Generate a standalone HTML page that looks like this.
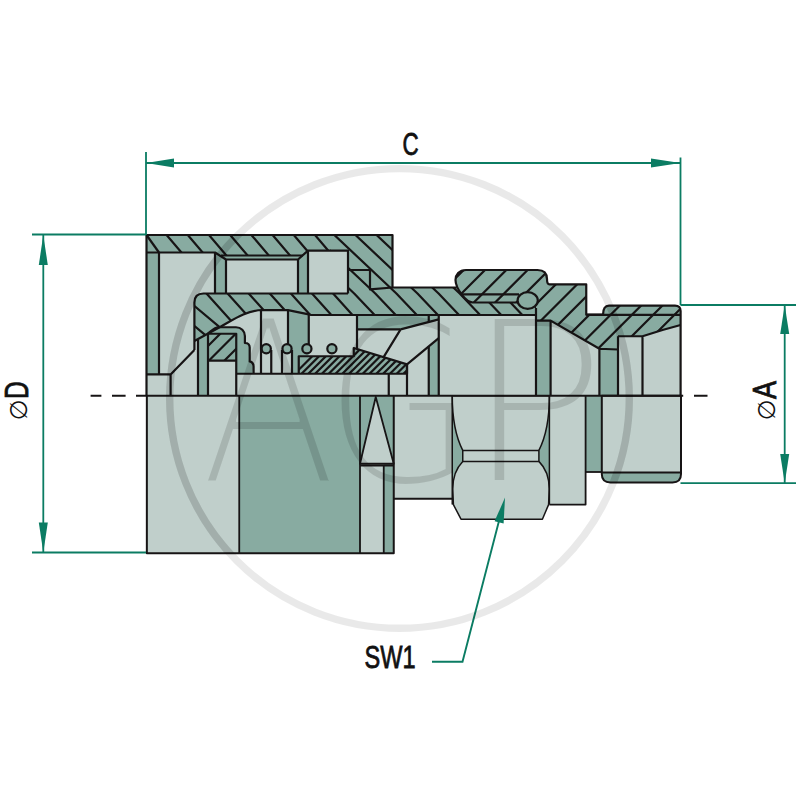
<!DOCTYPE html><html><head><meta charset="utf-8"><title>Drawing</title><style>html,body{margin:0;padding:0;background:#fff}svg{display:block}</style></head><body><svg width="800" height="800" viewBox="0 0 800 800"><defs><clipPath id="c1"><path d="M146.5,235 H348 V250.6 H308 L303,255.5 H220.5 L215,252.5 H146.5 Z"/></clipPath><clipPath id="c2"><path d="M194.4,341 V302.5 Q194.4,293.5 203.5,293.5 H348 V250.6 H330 V235 H392.5 V287.5 H456.5 C459,291 465,302.5 473,302.5 H536 V315 H308.75 L288,310.2 L262,310 C246,310.5 232,320.5 221,326.5 Z"/></clipPath><clipPath id="c3"><path d="M461.5,294.4 C458.5,290 455.5,286 455.5,280 C455.5,275 459,270 466,270 H537.5 Q547,270 547,279 Q547,284.4 549.5,284.4 H586.25 V314.7 H603 Q603,305.6 609,305.6 H675 Q680.6,305.6 680.6,311 V325 L662.5,330 L642.5,336.25 H618 V349.5 L599.4,348.75 L550.6,320.6 H536 V302.5 H473 C468,302.5 465,299 461.5,294.4 Z"/></clipPath><clipPath id="c4"><path d="M208,333.75 H236.25 V360.6 H208 Z"/></clipPath><clipPath id="c5"><path d="M298.75,356.25 H353.75 V348 L407,364.4 V373.75 H298.75 Z"/></clipPath><filter id="thin" x="-5%" y="-5%" width="110%" height="110%"><feMorphology operator="erode" radius="1"/></filter><clipPath id="sil"><path d="M146.5,235 H392.5 V287.5 H456.5 C455.5,275 459,270 466,270 H537.5 Q547,270 547,279 Q547,284.4 549.5,284.4 H586.25 V314.7 H603 Q603,305.6 609,305.6 H675 Q680.6,305.6 680.6,311 V474 Q681,482.4 672.5,482.4 H610.5 Q601.8,482.4 601.8,474 V472 H585.6 V504.6 H549.4 L542.4,519.2 H461 L452.25,504.6 V498.75 H393.75 V553 H146.75 Z"/></clipPath></defs><rect width="800" height="800" fill="#fff"/><path d="M146.5,235 H392.5 V287.5 H456.5 C459,291 465,302.5 473,302.5 H536 V315 H308.75 L288,310.2 L262,310 C246,310.5 232,320.5 221,326.5 L194.4,341 V302.5 Q194.4,293.5 203.5,293.5 H348 V250.6 H308 L303,255.5 H220.5 L215,252.5 H146.5 Z" fill="#88aba1"/>
<rect x="215" y="252.5" width="11" height="41.0" fill="#88aba1"/>
<rect x="298" y="255" width="10" height="38.5" fill="#88aba1"/>
<rect x="220.5" y="255.5" width="82.5" height="4.0" fill="#88aba1"/>
<path d="M215,252.5 L226,259.5 V255.5 H220.5 Z" fill="#88aba1"/>
<rect x="146.5" y="252.5" width="12.5" height="121.9" fill="#88aba1"/>
<path d="M159,252.5 H215 V293.5 H203.5 Q194.4,293.5 194.4,302.5 V350 L170.6,374.4 H159 Z" fill="#c0cfcb"/>
<rect x="226" y="259.5" width="72" height="34.0" fill="#c0cfcb"/>
<path d="M298,259.5 L308,250.6 V293.5 H298 Z" fill="#88aba1"/>
<rect x="308" y="250.6" width="40" height="42.9" fill="#c0cfcb"/>
<rect x="146.5" y="374.4" width="24.1" height="21.4" fill="#c0cfcb"/>
<path d="M170.6,374.4 L194.4,350 V341 L198,339 V395.8 H170.6 Z" fill="#c0cfcb"/>
<path d="M198,339 L208,333 V395.8 H198 Z" fill="#88aba1"/>
<path d="M208,333 L221,326.5 C232,320.5 246,310.5 262,310 L288,310.2 L308.75,314.4 V373.75 H208 Z" fill="#c0cfcb"/>
<rect x="208" y="360.6" width="28.25" height="35.2" fill="#c0cfcb"/>
<rect x="208" y="333.75" width="28.25" height="26.85" fill="#88aba1"/>
<path d="M208,333.5 C211,331.5 214,327.25 218.5,327.25 H236 C241,327.25 244.9,331 244.9,336 V343 C248,343 249.7,345 249.7,347.5 V361.4 C252,362 253.6,364 253.6,366.6 V373.75 H236.25 V333.75 H208 Z" fill="#88aba1"/>
<path d="M288,310.2 L308.75,314.4 V356.25 H298.75 V373.75 H288 Z" fill="#88aba1"/>
<rect x="282" y="349" width="10" height="24.75" fill="#c0cfcb"/>
<rect x="308.75" y="314.7" width="48.25" height="41.2" fill="#c0cfcb"/>
<rect x="236.25" y="373.75" width="170.75" height="22.05" fill="#c0cfcb"/>
<path d="M298.75,356.25 H353.75 V348 L407,364.4 V373.75 H298.75 Z" fill="#88aba1"/>
<path d="M357,315 H438.75 V319.4 L400.6,329.4 H357 Z" fill="#88aba1"/>
<path d="M357,329.4 H400.6 L383.75,356.8 L357,349 Z" fill="#c0cfcb"/>
<path d="M400.6,329.4 L438.75,319.4 V338.2 L407,364.4 L383.75,356.8 Z" fill="#c0cfcb"/>
<path d="M407,364.4 L428.75,346.4 V395.8 H407 Z" fill="#c0cfcb"/>
<path d="M428.75,346.4 L438.75,338.2 V395.8 H428.75 Z" fill="#88aba1"/>
<rect x="438.75" y="315" width="97.25" height="80.8" fill="#c0cfcb"/>
<rect x="536" y="320.6" width="14.6" height="75.2" fill="#88aba1"/>
<path d="M550.6,320.6 L599.4,348.75 V395.8 H550.6 Z" fill="#c0cfcb"/>
<rect x="599.4" y="349" width="18.6" height="46.8" fill="#88aba1"/>
<rect x="618" y="336.25" width="24.5" height="59.55" fill="#c0cfcb"/>
<path d="M642.5,336.25 L662.5,330 L680.6,325 V395.8 H642.5 Z" fill="#c0cfcb"/>
<path d="M461.5,294.4 C458.5,290 455.5,286 455.5,280 C455.5,275 459,270 466,270 H537.5 Q547,270 547,279 Q547,284.4 549.5,284.4 H586.25 V314.7 H603 Q603,305.6 609,305.6 H675 Q680.6,305.6 680.6,311 V325 L662.5,330 L642.5,336.25 H618 V349.5 L599.4,348.75 L550.6,320.6 H536 V302.5 H473 C468,302.5 465,299 461.5,294.4 Z" fill="#88aba1"/>
<path d="M166.6,235 L187.85,260 M187.8,235 L209.05,260 M209.0,235 L230.25,260 M230.2,235 L251.45,260 M251.4,235 L272.65,260 M272.6,235 L293.85,260 M293.8,235 L315.05,260 M315.0,235 L336.25,260" fill="none" stroke="#171415" stroke-width="2.2" clip-path="url(#c1)"/>
<path d="M152.5,233.5 L206.5,293.5 M206.5,293.5 L242.5,333.5 M173.6,233.5 L227.6,293.5 M227.6,293.5 L263.6,333.5 M194.7,233.5 L248.7,293.5 M248.7,293.5 L284.7,333.5 M215.8,233.5 L269.8,293.5 M269.8,293.5 L305.8,333.5 M236.9,233.5 L290.9,293.5 M290.9,293.5 L326.9,333.5 M258.0,233.5 L312.0,293.5 M312.0,293.5 L348.0,333.5 M279.1,233.5 L333.1,293.5 M333.1,293.5 L369.1,333.5 M290.6,233.5 L354.2,293.5 M354.2,293.5 L392.2,333.5 M311.7,233.5 L375.3,293.5 M375.3,293.5 L413.3,333.5 M332.8,233.5 L396.4,293.5 M396.4,293.5 L434.4,333.5 M353.9,233.5 L417.5,293.5 M417.5,293.5 L455.5,333.5 M375.0,233.5 L438.6,293.5 M438.6,293.5 L476.6,333.5 M396.1,233.5 L459.7,293.5 M459.7,293.5 L497.7,333.5 M417.2,233.5 L480.8,293.5 M480.8,293.5 L518.8,333.5 M438.3,233.5 L501.9,293.5 M501.9,293.5 L539.9,333.5 M459.4,233.5 L523.0,293.5 M523.0,293.5 L561.0,333.5 M480.5,233.5 L544.1,293.5 M544.1,293.5 L582.1,333.5 M190,302.3 L222,329.2 M190,322.3 L206,335.7" fill="none" stroke="#171415" stroke-width="2.2" clip-path="url(#c2)"/>
<path d="M473.7,260 L373.7,360 M495.0,260 L395.0,360 M516.3,260 L416.3,360 M537.6,260 L437.6,360 M558.9,260 L458.9,360 M580.2,260 L480.2,360 M601.5,260 L501.5,360 M622.8,260 L522.8,360 M644.1,260 L544.1,360 M665.4,260 L565.4,360 M686.7,260 L586.7,360 M708.0,260 L608.0,360 M729.3,260 L629.3,360 M750.6,260 L650.6,360 M771.9,260 L671.9,360" fill="none" stroke="#171415" stroke-width="2.2" clip-path="url(#c3)"/>
<path d="M224,330 L189,365 M239.5,330 L204.5,365 M255,330 L220,365" fill="none" stroke="#171415" stroke-width="2.2" clip-path="url(#c4)"/>
<path d="M328.5,340 L288.5,380 M335.3,340 L295.3,380 M342.1,340 L302.1,380 M348.9,340 L308.9,380 M355.7,340 L315.7,380 M362.5,340 L322.5,380 M369.3,340 L329.3,380 M376.1,340 L336.1,380 M382.9,340 L342.9,380 M389.7,340 L349.7,380 M396.5,340 L356.5,380 M403.3,340 L363.3,380 M410.1,340 L370.1,380 M416.9,340 L376.9,380 M423.7,340 L383.7,380 M430.5,340 L390.5,380 M437.3,340 L397.3,380 M444.1,340 L404.1,380 M450.9,340 L410.9,380 M457.7,340 L417.7,380" fill="none" stroke="#171415" stroke-width="2.2" clip-path="url(#c5)"/>
<path d="M146.5,395.8 V235 H392.5 V287.5 H456.8" fill="none" stroke="#171415" stroke-width="2.2" stroke-linejoin="round" />
<path d="M146.5,235 L159,252.5" fill="none" stroke="#171415" stroke-width="2.2" stroke-linejoin="round" />
<path d="M146.5,252.5 H215 L226,259.5 H298 L308,250.6 H348 V293.5" fill="none" stroke="#171415" stroke-width="2.2" stroke-linejoin="round" />
<path d="M221,255.5 H303" fill="none" stroke="#171415" stroke-width="2.2" stroke-linejoin="round" />
<path d="M159,252.5 V374.4" fill="none" stroke="#171415" stroke-width="2.2" stroke-linejoin="round" />
<path d="M215,252.5 V293.5 M226,259.5 V293.5 M298,259.5 V293.5 M308,250.6 V293.5" fill="none" stroke="#171415" stroke-width="2.2" stroke-linejoin="round" />
<path d="M194.4,350 V302.5 Q194.4,293.5 203.5,293.5 H348" fill="none" stroke="#171415" stroke-width="2.2" stroke-linejoin="round" />
<path d="M348,270 H370 V289.4 L392.5,287.5" fill="none" stroke="#171415" stroke-width="2.2" stroke-linejoin="round" />
<path d="M146.5,374.4 H170.6 V395.8 M170.6,374.4 L194.4,350" fill="none" stroke="#171415" stroke-width="2.2" stroke-linejoin="round" />
<path d="M194.4,341 L221,326.5 C232,320.5 246,310.5 262,310 L288,310.2 L308.75,314.4 L311,315 H536" fill="none" stroke="#171415" stroke-width="2.2" stroke-linejoin="round" />
<path d="M198,339.5 V395.8 M208,333.5 V395.8" fill="none" stroke="#171415" stroke-width="2.2" stroke-linejoin="round" />
<path d="M208,333.75 H236.25 V395.8 M208,360.6 H236.25" fill="none" stroke="#171415" stroke-width="2.2" stroke-linejoin="round" />
<path d="M208,333.5 C211,331.5 214,327.25 218.5,327.25 H236 C241,327.25 244.9,331 244.9,336 V343 C248,343 249.7,345 249.7,347.5 V361.4 C252,362 253.6,364 253.6,366.6 V373.75" fill="none" stroke="#171415" stroke-width="2.2" stroke-linejoin="round" />
<path d="M236.25,373.75 H407" fill="none" stroke="#171415" stroke-width="2.2" stroke-linejoin="round" />
<path d="M261,310 V373.75 M288,310.2 V344 M308.75,314.4 V344 M271.25,350 V373.75 M282,350 V373.75 M292,350 V373.75" fill="none" stroke="#171415" stroke-width="2.2" stroke-linejoin="round" />
<circle cx="266.25" cy="348.75" r="4.6" fill="#88aba1" stroke="#171415" stroke-width="2.2"/>
<circle cx="287" cy="348.75" r="4.6" fill="#88aba1" stroke="#171415" stroke-width="2.2"/>
<circle cx="306.9" cy="348.75" r="4.6" fill="#88aba1" stroke="#171415" stroke-width="2.2"/>
<circle cx="331.9" cy="348.75" r="4.6" fill="#88aba1" stroke="#171415" stroke-width="2.2"/>
<path d="M298.75,373.75 V356.25 H353.75 V348 L407,364.4 V373.75" fill="none" stroke="#171415" stroke-width="2.2" stroke-linejoin="round" />
<path d="M357,315 V349 M357,329.4 H400.6" fill="none" stroke="#171415" stroke-width="2.2" stroke-linejoin="round" />
<path d="M400.6,329.4 L438.75,319.4 M438.75,338.2 L407,364.4 M400.6,329.4 L383.75,356.8" fill="none" stroke="#171415" stroke-width="2.2" stroke-linejoin="round" />
<path d="M428.75,315 V322 M428.75,346.4 V395.8 M438.75,315 V395.8" fill="none" stroke="#171415" stroke-width="2.2" stroke-linejoin="round" />
<path d="M388.75,373.75 V395.8 M407,364.4 V395.8" fill="none" stroke="#171415" stroke-width="2.2" stroke-linejoin="round" />
<path d="M536,308 V395.8 M536,320.6 H550.6 L599.4,348.75 L618,349.5 M550.6,320.6 V395.8 M599.4,348.75 V395.8 M618,336.25 V395.8 M618,336.25 H642.5 L662.5,330 L680.6,325 M642.5,336.25 V395.8" fill="none" stroke="#171415" stroke-width="2.2" stroke-linejoin="round" />
<path d="M473,302.5 C468,302.5 465,299 462,295 C459,291 455.5,286 455.5,280 C455.5,275 459,270 466,270 H537.5 Q547,270 547,279 Q547,284.4 549.5,284.4 H586.25 V314.7 H603" fill="none" stroke="#171415" stroke-width="2.2" stroke-linejoin="round" />
<path d="M603,315 Q603,305.6 609,305.6 H675 Q680.6,305.6 680.6,311 V395.8 M586.25,314.9 H680.6" fill="none" stroke="#171415" stroke-width="2.2" stroke-linejoin="round" />
<path d="M461.5,294.4 H519 M473,302.5 H518.5" fill="none" stroke="#171415" stroke-width="2.2" stroke-linejoin="round" />
<ellipse cx="527.7" cy="300.5" rx="10.1" ry="8.3" fill="#88aba1" stroke="#171415" stroke-width="2.2"/>
<rect x="146.75" y="395.8" width="92.5" height="157.2" fill="#c0cfcb"/>
<rect x="239.25" y="395.8" width="120.75" height="157.2" fill="#88aba1"/>
<rect x="360" y="395.8" width="33.75" height="68.2" fill="#88aba1"/>
<path d="M360,463.75 L375.75,397 L393.75,463.75 Z" fill="#c0cfcb"/>
<rect x="360" y="464" width="23.75" height="89" fill="#c0cfcb"/>
<rect x="383.75" y="464" width="10.0" height="89" fill="#88aba1"/>
<rect x="393.75" y="395.8" width="58.5" height="102.95" fill="#c0cfcb"/>
<rect x="452.25" y="395.8" width="97.15" height="108.8" fill="#88aba1"/>
<path d="M452.25,395.8 H549.4 V395.8 Q549.4,430 538.9,450.4 V461.4 Q549.6,472 549.2,490 L548.6,504.6 L542.4,519.2 H461 L453.4,504.6 L452.8,490 Q452.4,472 462.75,461.4 V450.4 Q452.25,430 452.25,395.8 Z" fill="#c0cfcb"/>
<rect x="549.4" y="395.8" width="36.2" height="108.8" fill="#c0cfcb"/>
<rect x="585.6" y="395.8" width="16.2" height="76.2" fill="#88aba1"/>
<path d="M601.8,395.8 H681 V474 Q681,482.4 672.5,482.4 H610.5 Q601.8,482.4 601.8,474 Z" fill="#c0cfcb"/>
<path d="M601.8,472.5 H681 V474 Q681,482.4 672.5,482.4 H610.5 Q601.8,482.4 601.8,474 Z" fill="#88aba1"/>
<path d="M146.85,395.8 V553.3 H393.75 V395.8" fill="none" stroke="#171415" stroke-width="2.0" stroke-linejoin="round" />
<path d="M239.25,395.8 V553 M360,395.8 V553" fill="none" stroke="#171415" stroke-width="1.8" stroke-linejoin="round" />
<path d="M360,463.75 L375.75,397 L393.75,463.75 Z" fill="none" stroke="#171415" stroke-width="1.8" stroke-linejoin="round" />
<path d="M360,465.5 H393.75 M383.75,465.5 V553" fill="none" stroke="#171415" stroke-width="1.8" stroke-linejoin="round" />
<path d="M393.75,498.75 H452.25" fill="none" stroke="#171415" stroke-width="1.8" stroke-linejoin="round" />
<path d="M452.25,395.8 V504.6 M549.4,395.8 V504.6" fill="none" stroke="#171415" stroke-width="1.5" stroke-linejoin="round" />
<path d="M452.25,395.8 H549.4 V395.8 Q549.4,430 538.9,450.4 V461.4 Q549.6,472 549.2,490 L548.6,504.6 L542.4,519.2 H461 L453.4,504.6 L452.8,490 Q452.4,472 462.75,461.4 V450.4 Q452.25,430 452.25,395.8 Z" fill="none" stroke="#171415" stroke-width="1.5" stroke-linejoin="round" />
<path d="M462.75,450.4 H538.9 M462.75,461.4 H538.9" fill="none" stroke="#171415" stroke-width="1.5" stroke-linejoin="round" />
<path d="M549.4,504.6 H585.6 V395.8" fill="none" stroke="#171415" stroke-width="1.8" stroke-linejoin="round" />
<path d="M585.6,472 H601.8" fill="none" stroke="#171415" stroke-width="1.8" stroke-linejoin="round" />
<path d="M601.8,395.8 H681 V474 Q681,482.4 672.5,482.4 H610.5 Q601.8,482.4 601.8,474 Z" fill="none" stroke="#171415" stroke-width="2.0" stroke-linejoin="round" />
<path d="M601.8,472.5 H681" fill="none" stroke="#171415" stroke-width="1.8" stroke-linejoin="round" />
<path d="M136,395.8 H683.2" stroke="#171415" stroke-width="2.1" fill="none"/>
<path d="M90.6,395.8 H101.4 M112,395.8 H125.6 M694,395.8 H707.5" stroke="#171415" stroke-width="2.1" fill="none"/>
<path d="M146,152 V235 M680.5,157.5 V305 M146,163 H680.5" fill="none" stroke="#0b7c63" stroke-width="1.8"/>
<path d="M146,163 L174,158.5 V167.5 Z" fill="#0b7c63"/>
<path d="M680.5,163 L651,158.5 V167.5 Z" fill="#0b7c63"/>
<path d="M32,234.5 H146 M32,552.5 H146 M43.3,235 V552" fill="none" stroke="#0b7c63" stroke-width="1.8"/>
<path d="M43.3,235 L38.8,265 H47.8 Z" fill="#0b7c63"/>
<path d="M43.3,552.5 L38.8,522.5 H47.8 Z" fill="#0b7c63"/>
<path d="M680.5,305 H796 M680.5,483.2 H796 M784.7,305 V483" fill="none" stroke="#0b7c63" stroke-width="1.8"/>
<path d="M784.7,305 L780.2,334 H789.2 Z" fill="#0b7c63"/>
<path d="M784.7,483.2 L780.2,454 H789.2 Z" fill="#0b7c63"/>
<path d="M432,661.8 H462.5 L499.5,519" fill="none" stroke="#0b7c63" stroke-width="1.9"/>
<path d="M505,497.5 L503.6,523.6 L494.6,521.3 Z" fill="#0b7c63"/>
<text transform="translate(402.5,154.7) scale(0.70,1)" font-family="'Liberation Sans', 'DejaVu Sans', sans-serif" font-size="32" fill="#111" stroke="#111" stroke-width="0.8">C</text>
<text transform="translate(364.6,668.4) scale(0.76,1)" font-family="'Liberation Sans', 'DejaVu Sans', sans-serif" font-size="31" fill="#111" stroke="#111" stroke-width="0.8">SW1</text>
<text transform="translate(27,420.2) rotate(-90)" font-family="'DejaVu Sans', sans-serif" font-size="24" fill="#111">∅</text>
<text transform="translate(27.5,399) rotate(-90) scale(0.75,1)" font-family="'Liberation Sans', 'DejaVu Sans', sans-serif" font-size="32.5" fill="#111" stroke="#111" stroke-width="0.8">D</text>
<text transform="translate(775.3,420.2) rotate(-90)" font-family="'DejaVu Sans', sans-serif" font-size="24" fill="#111">∅</text>
<text transform="translate(776,399) rotate(-90) scale(0.83,1)" font-family="'Liberation Sans', 'DejaVu Sans', sans-serif" font-size="32.5" fill="#111" stroke="#111" stroke-width="0.8">A</text>
<g opacity="0.085"><circle cx="399.5" cy="398.4" r="229.8" fill="none" stroke="#000" stroke-width="7.4"/></g>
<g opacity="0.075" clip-path="url(#sil)"><circle cx="399.5" cy="398.4" r="229.8" fill="none" stroke="#000" stroke-width="7.4"/></g>
<g opacity="0.125">
<g font-family="'DejaVu Sans', sans-serif" font-weight="200" font-size="222" fill="#000" filter="url(#thin)"><text transform="translate(206.8,481.8) scale(0.898,1.012)" x="-7">A</text><text transform="translate(340,481.5) scale(0.874,1.012)" x="-18">G</text><text transform="translate(493.5,481) scale(1.059,1.006)" x="-27">P</text></g>
</g></svg></body></html>
